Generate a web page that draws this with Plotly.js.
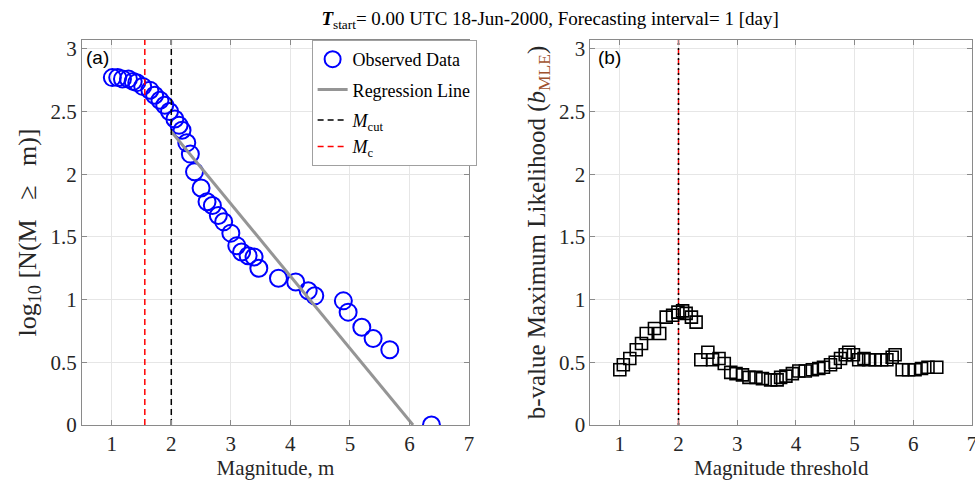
<!DOCTYPE html>
<html>
<head>
<meta charset="utf-8">
<script src="https://cdn.plot.ly/plotly-3.0.1.min.js"></script>
<style>html,body{margin:0;padding:0;background:#fff;}#chart{width:975px;height:487px;}</style>
</head>
<body>
<div id="chart"></div>
<script>
// ---- Panel (a): frequency-magnitude distribution ----
const magObs = [1.01,1.10,1.18,1.28,1.36,1.42,1.52,1.64,1.72,1.81,1.89,1.97,2.06,2.13,2.18,2.26,2.32,2.39,2.50,2.60,2.69,2.79,2.88,3.00,3.10,3.18,3.29,3.39,3.47,3.80,4.09,4.30,4.41,4.89,4.97,5.20,5.39,5.67,6.37];
const logN   = [2.77,2.77,2.76,2.76,2.74,2.73,2.70,2.67,2.63,2.59,2.55,2.50,2.44,2.39,2.35,2.25,2.16,2.02,1.89,1.78,1.75,1.67,1.62,1.53,1.43,1.38,1.35,1.34,1.25,1.17,1.14,1.07,1.03,0.99,0.90,0.78,0.69,0.60,0.00];
const regM = [2.0, 6.06];
const regV = [2.34, 0.0];
const McA = 1.555;
const McutA = 2.0;

// ---- Panel (b): b-value vs magnitude threshold ----
const magThr = [1.00,1.06,1.17,1.28,1.37,1.45,1.59,1.68,1.79,1.90,1.99,2.07,2.13,2.22,2.30,2.38,2.50,2.58,2.69,2.78,2.89,2.98,3.09,3.20,3.32,3.43,3.57,3.68,3.74,3.83,3.94,4.05,4.16,4.28,4.39,4.47,4.59,4.67,4.76,4.84,4.90,4.98,5.07,5.16,5.24,5.35,5.46,5.55,5.64,5.69,5.81,5.92,6.03,6.14,6.25,6.40];
const bMLE   = [0.44,0.48,0.53,0.60,0.65,0.73,0.77,0.73,0.86,0.875,0.90,0.91,0.89,0.86,0.82,0.52,0.58,0.52,0.53,0.49,0.42,0.41,0.40,0.38,0.38,0.37,0.36,0.36,0.38,0.39,0.41,0.43,0.43,0.44,0.45,0.46,0.48,0.50,0.53,0.56,0.58,0.56,0.52,0.53,0.52,0.52,0.52,0.52,0.54,0.56,0.44,0.44,0.44,0.45,0.46,0.46];
const McB = 2.0;
const McutB = 2.0;

const xTicks = [1,2,3,4,5,6,7];
const yTicks = [0,0.5,1,1.5,2,2.5,3];
const yTop = 3.07;

const serif = "'Liberation Serif', 'Times New Roman', serif";
const sans = "'Liberation Sans', Arial, sans-serif";
const GAP = '\u00a0\u00a0\u00a0';

const traces = [
  {x: magObs, y: logN, type:'scatter', mode:'markers', name:'Observed Data', legendgroup:'g1',
   marker:{symbol:'circle-open', size:17, color:'#0000ff', line:{width:2, color:'#0000ff'}}, xaxis:'x', yaxis:'y'},
  {x: regM, y: regV, type:'scatter', mode:'lines', name:'Regression Line', legendgroup:'g2',
   line:{color:'#959595', width:3}, xaxis:'x', yaxis:'y'},
  {x: [McutA, McutA], y: [0, yTop], type:'scatter', mode:'lines', name:'<i>M</i><sub>cut</sub>', legendgroup:'g3',
   line:{color:'#000000', width:1.5, dash:'6px,4px'}, xaxis:'x', yaxis:'y'},
  {x: [McA, McA], y: [0, yTop], type:'scatter', mode:'lines', name:'<i>M</i><sub>c</sub>', legendgroup:'g3',
   line:{color:'#ff0000', width:1.5, dash:'6px,4px'}, xaxis:'x', yaxis:'y'},
  {x: [McB, McB], y: [0, yTop], type:'scatter', mode:'lines', showlegend:false,
   line:{color:'#ff0000', width:1.5, dash:'6px,4px'}, xaxis:'x2', yaxis:'y2'},
  {x: [McutB, McutB], y: [0, yTop], type:'scatter', mode:'lines', showlegend:false,
   line:{color:'#000000', width:1.5, dash:'2px,3px'}, xaxis:'x2', yaxis:'y2'},
  {x: magThr, y: bMLE, type:'scatter', mode:'markers', showlegend:false,
   marker:{symbol:'square-open', size:12, color:'#000000', line:{width:1.6, color:'#000000'}}, xaxis:'x2', yaxis:'y2'}
];

function xAxis(domain, title, anchor){
  return {domain: domain, anchor: anchor, range:[0.5,7], tickvals: xTicks, ticktext: xTicks.map(String),
    showgrid:true, gridcolor:'#e6e6e6', gridwidth:1, zeroline:false,
    showline:true, linecolor:'#8a8a8a', linewidth:1, mirror:'ticks',
    ticks:'inside', ticklen:5, tickcolor:'#8a8a8a', ticklabeloverflow:'allow',
    tickfont:{family: serif, size:21, color:'#262626'},
    title:{text:title, font:{family: serif, size:21, color:'#262626'}, standoff:5}};
}
function yAxis(domainAnchor, title, tsize, standoff){
  return {domain:[0,1], anchor: domainAnchor, range:[0,yTop], tickvals: yTicks, ticktext: yTicks.map(String),
    showgrid:true, gridcolor:'#e6e6e6', gridwidth:1, zeroline:false,
    showline:true, linecolor:'#8a8a8a', linewidth:1, mirror:'ticks',
    ticks:'inside', ticklen:5, tickcolor:'#8a8a8a',
    tickfont:{family: serif, size:21, color:'#262626'},
    title:{text:title, font:{family: serif, size:tsize, color:'#262626'}, standoff:standoff}};
}

const layout = {
  width:975, height:487,
  margin:{l:82, r:3, t:40, b:62},
  paper_bgcolor:'#ffffff', plot_bgcolor:'#ffffff',
  showlegend:true,
  title:{text:'<b><i>T</i></b><sub>start</sub>= 0.00 UTC 18-Jun-2000, Forecasting interval= 1 [day]',
    font:{family: serif, size:19, color:'#000000'}, x:0.526, xref:'paper', xanchor:'center', y:0.962, yref:'container', yanchor:'middle'},
  xaxis: xAxis([0,0.4348], 'Magnitude, m', 'y'),
  yaxis: yAxis('x', 'log<sub>10</sub> [N(M' + GAP + '≥' + GAP + 'm)]', 26, 6),
  xaxis2: xAxis([0.5713,1], 'Magnitude threshold', 'y2'),
  yaxis2: yAxis('x2', 'b-value Maximum Likelihood (<i>b</i><sub><span style="color:#a0522d">MLE</span></sub>)', 25, 6),
  legend:{x:0.258, y:1.0, xanchor:'left', yanchor:'top', bgcolor:'#ffffff', bordercolor:'#a0a0a0', borderwidth:1,
    font:{family: serif, size:18, color:'#000000'}, tracegroupgap:4, itemwidth:30},
  annotations:[
    {text:'(a)', xref:'x domain', yref:'y domain', x:0.005, y:0.955, xanchor:'left', yanchor:'middle', showarrow:false,
     font:{family: sans, size:19, color:'#000000'}},
    {text:'(b)', xref:'x2 domain', yref:'y2 domain', x:0.015, y:0.955, xanchor:'left', yanchor:'middle', showarrow:false,
     font:{family: sans, size:19, color:'#000000'}}
  ]
};

Plotly.newPlot('chart', traces, layout, {displayModeBar:false, staticPlot:true});
</script>
</body>
</html>
